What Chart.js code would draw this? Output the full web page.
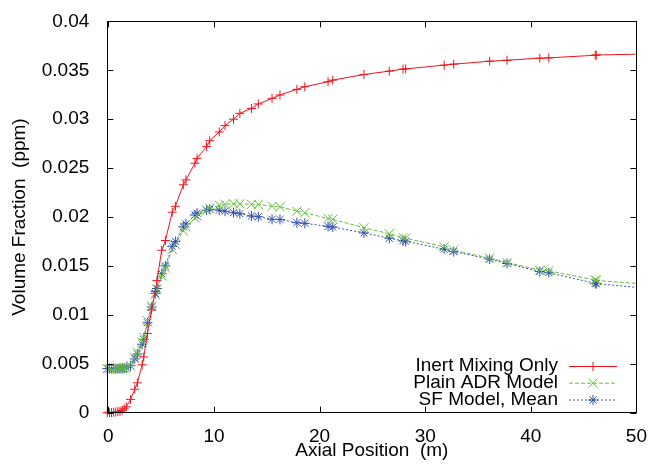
<!DOCTYPE html>
<html>
<head>
<meta charset="utf-8">
<script src="https://cdn.jsdelivr.net/npm/chart.js@4/dist/chart.umd.min.js"></script>
<style>
  html, body { margin: 0; padding: 0; background: #fff; }
  canvas { display: block; }
</style>
</head>
<body>
<canvas id="c" width="652" height="464"></canvas>
<script>
// axial positions (m), shared by the three curves
const xPos = [-0.1, 0.1, 0.3, 0.5, 0.7, 0.9, 1.1, 1.3, 1.5, 1.7, 2.1, 2.5, 2.75, 3.2, 3.35, 3.7, 4.1, 4.45, 4.6,
  5.05, 5.4, 6.05, 6.35, 7.1, 7.35, 8.2, 8.4, 9.3, 9.6, 10.5, 11.05, 11.85, 12.45, 13.55, 14.2, 15.5, 16.25,
  17.85, 18.6, 20.8, 21.25, 24.2, 26.6, 27.9, 28.15, 31.8, 32.7, 36.1, 37.75, 40.85, 41.7, 46.1, 46.2, 50];

const inertMixing = [0, 0, 0.00002, 0.00004, 0.00007, 0.0001, 0.00015, 0.00025, 0.0004, 0.0006, 0.00136, 0.0024,
  0.00305, 0.0049, 0.0057, 0.0081, 0.0105, 0.0124, 0.0135, 0.0166, 0.0176, 0.0205, 0.0211, 0.0233, 0.0238,
  0.0255, 0.026, 0.0272, 0.0278, 0.0287, 0.02935, 0.03, 0.0306, 0.0311, 0.03156, 0.03213, 0.03248, 0.03305,
  0.03332, 0.03383, 0.034, 0.03457, 0.03492, 0.03512, 0.03515, 0.03553, 0.03563, 0.03593, 0.03603, 0.03624,
  0.03627, 0.03654, 0.03656, 0.03665];

const plainADR = [0.0045, 0.0045, 0.0045, 0.0045, 0.0045, 0.0045, 0.0045, 0.00452, 0.00455, 0.0046, 0.0048, 0.0056,
  0.0062, 0.0072, 0.0077, 0.0094, 0.0109, 0.0121, 0.0126, 0.014, 0.0148, 0.0167, 0.0172, 0.0186, 0.019,
  0.0199, 0.0201, 0.0207, 0.0209, 0.0212, 0.0213, 0.02135, 0.02135, 0.0213, 0.02128, 0.0211, 0.02105, 0.0206,
  0.02044, 0.01985, 0.01977, 0.01891, 0.0183, 0.0179, 0.01783, 0.01695, 0.01661, 0.0158, 0.01535, 0.01458,
  0.01451, 0.01356, 0.01352, 0.01322];

const sfMean = [0.00451, 0.00451, 0.00451, 0.00451, 0.00451, 0.00451, 0.00451, 0.00452, 0.00455, 0.0046, 0.0048, 0.0055,
  0.006, 0.007, 0.0075, 0.0092, 0.0108, 0.0122, 0.0127, 0.0142, 0.015, 0.017, 0.0175, 0.019, 0.0193,
  0.0202, 0.0204, 0.0207, 0.0208, 0.0207, 0.0206, 0.02044, 0.02034, 0.0201, 0.02003, 0.01977, 0.01975, 0.01942,
  0.01936, 0.01905, 0.01898, 0.01838, 0.01783, 0.01758, 0.01752, 0.01671, 0.01647, 0.0157, 0.01525, 0.01444,
  0.01431, 0.01322, 0.0132, 0.01281];

const xTicks = [0, 10, 20, 30, 40, 50];
const yTicks = [0, 0.005, 0.01, 0.015, 0.02, 0.025, 0.03, 0.035, 0.04];

const FONT = "'Liberation Sans', Arial, Helvetica, sans-serif";
const FS = 19;

function pts(ys) {
  return xPos.map((x, i) => ({ x: x, y: ys[i] }));
}
// last sample only carries the line to the frame edge, no marker
const noLastMarker = (r) => (ctx) => (ctx.dataIndex === xPos.length - 1 ? 0 : r);

// gnuplot style frame with inward ticks on all four sides
const frame = {
  id: "frame",
  afterDraw(chart) {
    const { ctx, chartArea: a, scales } = chart;
    ctx.save();
    ctx.strokeStyle = "#000";
    ctx.lineWidth = 1;
    ctx.strokeRect(Math.round(a.left) + 0.5, Math.round(a.top) + 0.5,
      Math.round(a.right - a.left), Math.round(a.bottom - a.top));
    ctx.beginPath();
    const T = 6;
    xTicks.forEach((v) => {
      const px = Math.round(scales.x.getPixelForValue(v)) + 0.5;
      ctx.moveTo(px, a.bottom); ctx.lineTo(px, a.bottom - T);
      ctx.moveTo(px, a.top); ctx.lineTo(px, a.top + T);
    });
    yTicks.forEach((v) => {
      const py = Math.round(scales.y.getPixelForValue(v)) + 0.5;
      ctx.moveTo(a.left, py); ctx.lineTo(a.left + T, py);
      ctx.moveTo(a.right, py); ctx.lineTo(a.right - T, py);
    });
    ctx.stroke();
    ctx.restore();
  },
};

// key in the lower right: right aligned text, sample line to the right
const key = {
  id: "key",
  afterDraw(chart) {
    const { ctx } = chart;
    const textRight = 558, x0 = 569, x1 = 617;
    const rows = [366, 382.7, 399.5];
    ctx.save();
    ctx.font = FS + "px " + FONT;
    ctx.textAlign = "right";
    ctx.textBaseline = "alphabetic";
    chart.data.datasets.forEach((ds, i) => {
      const y = rows[i];
      ctx.fillStyle = "#000";
      ctx.fillText(ds.label, textRight, y + 5);
      ctx.strokeStyle = ds.borderColor;
      ctx.lineWidth = ds.borderWidth;
      ctx.setLineDash(ds.borderDash || []);
      ctx.beginPath();
      ctx.moveTo(x0, y + 0.5); ctx.lineTo(x1, y + 0.5);
      ctx.stroke();
      ctx.setLineDash([]);
      Chart.helpers.drawPoint(ctx, {
        pointStyle: ds.pointStyle, radius: ds.keyRadius, borderWidth: 1, rotation: 0,
      }, (x0 + x1) / 2, y + 0.5);
    });
    ctx.restore();
  },
};

new Chart(document.getElementById("c"), {
  type: "scatter",
  data: {
    datasets: [
      {
        label: "Inert Mixing Only", data: pts(inertMixing), showLine: true,
        borderColor: "rgb(240,20,30)", backgroundColor: "rgb(240,20,30)", borderWidth: 1,
        pointStyle: "cross", pointRadius: noLastMarker(4.5), keyRadius: 4.5, pointBorderWidth: 1,
        clip: false,
      },
      {
        label: "Plain ADR Model", data: pts(plainADR), showLine: true,
        borderColor: "rgb(100,190,60)", backgroundColor: "rgb(100,190,60)", borderWidth: 1, borderDash: [4, 2],
        pointStyle: "crossRot", pointRadius: noLastMarker(6.5), keyRadius: 6.5, pointBorderWidth: 1,
        clip: false,
      },
      {
        label: "SF Model, Mean", data: pts(sfMean), showLine: true,
        borderColor: "rgb(50,80,170)", backgroundColor: "rgb(50,80,170)", borderWidth: 1, borderDash: [2, 2],
        pointStyle: "star", pointRadius: noLastMarker(5), keyRadius: 5, pointBorderWidth: 1,
        clip: false,
      },
    ],
  },
  options: {
    responsive: false, animation: false, devicePixelRatio: 1,
    layout: { padding: { left: 0, top: 19.3, right: 14.7, bottom: 0 } },
    plugins: { legend: { display: false }, tooltip: { enabled: false } },
    scales: {
      x: {
        type: "linear", position: "bottom", min: -0.1, max: 50,
        afterBuildTicks: (s) => { s.ticks = xTicks.map((v) => ({ value: v })); },
        afterFit: (s) => { s.height = 51.3; },
        grid: { display: false }, border: { display: false },
        ticks: { color: "#000", padding: 5, maxRotation: 0, font: { family: FONT, size: FS } },
        title: { display: true, text: "Axial Position  (m)", color: "#000", padding: { top: 0, bottom: 2 },
          font: { family: FONT, size: FS } },
      },
      y: {
        type: "linear", min: 0, max: 0.04,
        afterBuildTicks: (s) => { s.ticks = yTicks.map((v) => ({ value: v })); },
        afterFit: (s) => { s.width = 107.3; },
        grid: { display: false }, border: { display: false },
        ticks: { color: "#000", padding: 10, font: { family: FONT, size: FS },
          callback: (v) => String(+v.toFixed(3)) },
        title: { display: true, text: "Volume Fraction  (ppm)", color: "#000", padding: { top: 8, bottom: 0 },
          font: { family: FONT, size: FS } },
      },
    },
  },
  plugins: [frame, key],
});
</script>
</body>
</html>
